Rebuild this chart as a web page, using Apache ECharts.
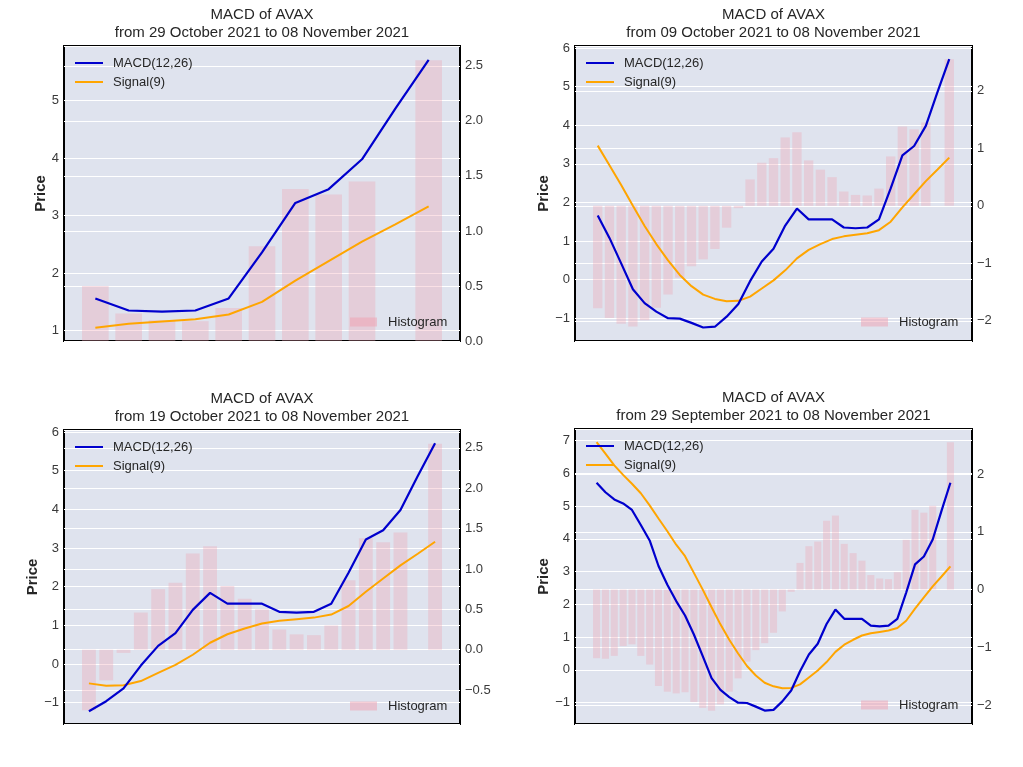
<!DOCTYPE html>
<html>
<head>
<meta charset="utf-8">
<title>MACD of AVAX</title>
<script src="https://cdn.jsdelivr.net/npm/echarts@6/dist/echarts.min.js"></script>
<style>
    html, body { margin: 0; padding: 0; background: #fff; }
    #chart { width: 1023px; height: 767px; }
</style>
</head>
<body>
<div id="chart"></div>
<script>
// daily values from 29 September 2021 to 08 November 2021 (41 days)
var macd = [5.71, 5.42, 5.20, 5.08, 4.88, 4.42, 3.95, 3.17, 2.60, 2.10,
    1.66, 1.08, 0.42, -0.25, -0.61, -0.83, -1.00, -1.01, -1.12, -1.24,
    -1.22, -0.96, -0.63, -0.04, 0.47, 0.80, 1.40, 1.84, 1.56, 1.56,
    1.56, 1.35, 1.33, 1.35, 1.56, 2.36, 3.22, 3.46, 3.98, 4.86, 5.71];
var signal = [6.95, 6.60, 6.24, 5.95, 5.68, 5.39, 5.02, 4.62, 4.23, 3.82,
    3.47, 2.96, 2.45, 1.91, 1.39, 0.92, 0.50, 0.12, -0.17, -0.39,
    -0.50, -0.56, -0.55, -0.44, -0.23, -0.02, 0.24, 0.55, 0.77, 0.92,
    1.05, 1.12, 1.16, 1.20, 1.28, 1.50, 1.87, 2.21, 2.55, 2.85, 3.16];
var histogram = [-1.19, -1.20, -1.15, -0.98, -0.95, -1.15, -1.30, -1.67, -1.77, -1.80,
    -1.78, -1.95, -2.05, -2.10, -1.99, -1.77, -1.54, -1.25, -1.05, -0.93,
    -0.75, -0.38, -0.04, 0.46, 0.75, 0.83, 1.19, 1.28, 0.79, 0.63,
    0.50, 0.25, 0.19, 0.18, 0.30, 0.86, 1.38, 1.33, 1.45, null, 2.55];

// the four windows, all ending on the last day
var windowStart = [30, 10, 20, 0];
var windowFrom = ['29 October 2021', '09 October 2021', '19 October 2021', '29 September 2021'];
var windowTo = '08 November 2021';

// axis settings per panel
var priceStep = [1, 1, 1, 1];
var histStep = [0.5, 1, 0.5, 1];
var priceRange = [[0.82, 5.95], [-1.59, 6.05], [-1.55, 6.05], [-1.65, 7.35]];
var histRange = [[0, 2.68], [-2.35, 2.78], [-0.92, 2.72], [-2.33, 2.78]];

var boxes = [
    {left: 64, top: 46, width: 396, height: 295},
    {left: 575, top: 46, width: 397, height: 295},
    {left: 64, top: 430, width: 396, height: 294},
    {left: 575, top: 429, width: 397, height: 295}
];
var nameGaps = [16, 23, 23, 23];

var FONT = 'Liberation Sans, Arial, sans-serif';
var TEXT = '#262626';
var BAR = 'rgba(240,160,175,0.32)';

function minus(s) {
    return String(s).replace('-', '\u2212');
}

var myChart = echarts.init(document.getElementById('chart'), null, {renderer: 'canvas'});

var grids = [], xAxes = [], yAxes = [], titles = [], legends = [], series = [];

for (var p = 0; p < 4; p++) {
    var b = boxes[p];
    var s = windowStart[p];
    var n = macd.length - s;
    var pad = 0.4 + 0.05 * (n - 1 + 0.8);

    var macdData = [], signalData = [], histData = [];
    for (var i = 0; i < n; i++) {
        macdData.push([i, macd[s + i]]);
        signalData.push([i, signal[s + i]]);
        histData.push([i, histogram[s + i]]);
    }

    grids.push({
        left: b.left, top: b.top, width: b.width, height: b.height,
        show: true,
        backgroundColor: '#dfe3ee',
        borderColor: '#000',
        borderWidth: 2
    });

    titles.push({
        text: 'MACD of AVAX\nfrom ' + windowFrom[p] + ' to ' + windowTo,
        left: b.left + b.width / 2,
        top: b.top - 40.6,
        textAlign: 'center',
        padding: 0,
        textStyle: {fontFamily: FONT, fontSize: 15, fontWeight: 'normal', color: TEXT, lineHeight: 18.6}
    });

    xAxes.push({
        type: 'value',
        gridIndex: p,
        min: -pad,
        max: n - 1 + pad,
        show: false,
        splitLine: {show: false}
    });

    yAxes.push({
        type: 'value',
        gridIndex: p,
        position: 'left',
        min: priceRange[p][0],
        max: priceRange[p][1],
        minInterval: priceStep[p],
        maxInterval: priceStep[p],
        splitNumber: 8,
        name: 'Price',
        nameLocation: 'middle',
        nameRotate: 90,
        nameGap: nameGaps[p],
        nameTextStyle: {fontFamily: FONT, fontSize: 15, fontWeight: 'bold', color: TEXT},
        axisLine: {show: false},
        axisTick: {show: false},
        axisLabel: {
            fontFamily: FONT, fontSize: 13, color: '#3a3a3a', margin: 5,
            showMinLabel: false, showMaxLabel: false,
            formatter: function (v) { return minus(Math.round(v)); }
        },
        splitLine: {show: true, lineStyle: {color: '#ffffff', width: 1.2}}
    });

    var step = histStep[p];
    yAxes.push({
        type: 'value',
        gridIndex: p,
        position: 'right',
        min: histRange[p][0],
        max: histRange[p][1],
        minInterval: step,
        maxInterval: step,
        splitNumber: 6,
        axisLine: {show: false},
        axisTick: {show: false},
        axisLabel: {
            fontFamily: FONT, fontSize: 13, color: '#3a3a3a', margin: 5,
            showMinLabel: histRange[p][0] === 0,
            showMaxLabel: false,
            formatter: (function (st) {
                return function (v) {
                    return minus(st < 1 ? v.toFixed(1) : Math.round(v));
                };
            })(step)
        },
        splitLine: {show: true, lineStyle: {color: '#ffffff', width: 1.2}}
    });

    legends.push({
        data: ['MACD(12,26)', 'Signal(9)'],
        orient: 'vertical',
        left: b.left + 11,
        top: b.top + 10,
        padding: 0,
        itemWidth: 28,
        itemHeight: 14,
        itemGap: 5,
        icon: 'path://M0,0 L28,0 L28,2 L0,2 Z',
        selectedMode: false,
        textStyle: {fontFamily: FONT, fontSize: 13, color: TEXT, lineHeight: 14, padding: [0, 0, 0, 5]}
    });
    legends.push({
        data: [{name: 'Histogram', itemStyle: {color: 'rgba(240,160,175,0.5)'}}],
        left: b.left + 286,
        top: b.top + 269,
        padding: 0,
        itemWidth: 27,
        itemHeight: 9,
        icon: 'rect',
        selectedMode: false,
        textStyle: {fontFamily: FONT, fontSize: 13, color: TEXT, lineHeight: 14, padding: [0, 0, 0, 6]}
    });

    series.push({
        name: 'Histogram',
        type: 'bar',
        xAxisIndex: p,
        yAxisIndex: 2 * p + 1,
        data: histData,
        barWidth: '80%',
        itemStyle: {color: BAR},
        z: 2
    });
    series.push({
        name: 'MACD(12,26)',
        type: 'line',
        xAxisIndex: p,
        yAxisIndex: 2 * p,
        data: macdData,
        symbol: 'none',
        itemStyle: {color: '#0000cd'},
        lineStyle: {color: '#0000cd', width: 2.2},
        z: 4
    });
    series.push({
        name: 'Signal(9)',
        type: 'line',
        xAxisIndex: p,
        yAxisIndex: 2 * p,
        data: signalData,
        symbol: 'none',
        itemStyle: {color: '#ffa500'},
        lineStyle: {color: '#ffa500', width: 2},
        z: 3
    });
}

myChart.setOption({
    backgroundColor: '#ffffff',
    animation: false,
    textStyle: {fontFamily: FONT},
    title: titles,
    legend: legends,
    grid: grids,
    xAxis: xAxes,
    yAxis: yAxes,
    series: series
});
</script>
</body>
</html>
